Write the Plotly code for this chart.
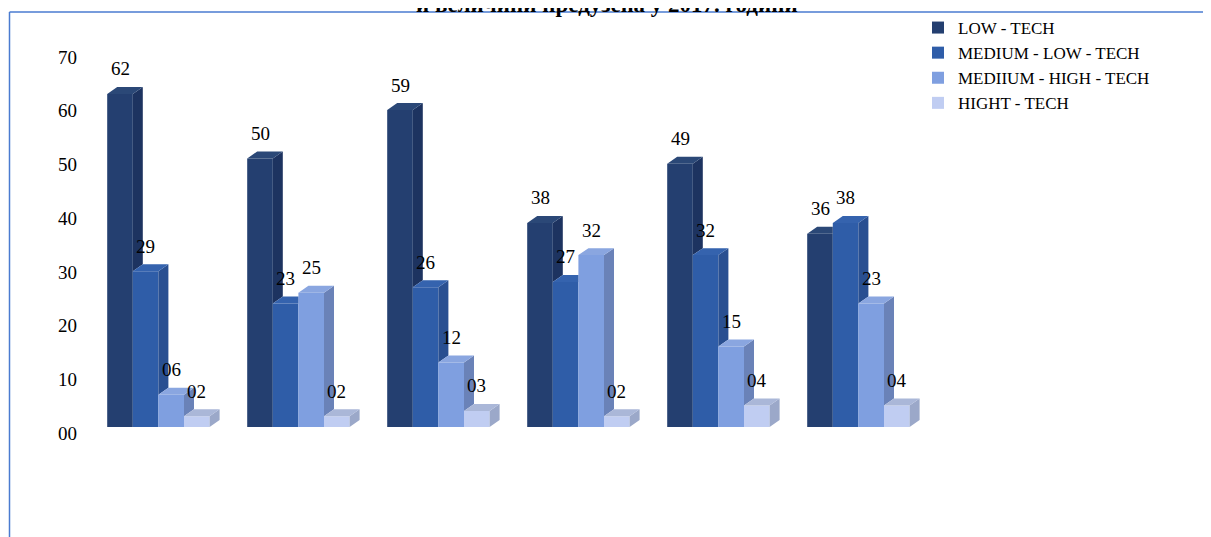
import plotly.graph_objects as go

# ---- data ----
series_names = ["LOW - TECH", "MEDIUM - LOW - TECH", "MEDIIUM - HIGH - TECH", "HIGHT - TECH"]
low_tech = [62, 50, 59, 38, 49, 36]
medium_low_tech = [29, 23, 26, 27, 32, 38]
medium_high_tech = [6, 25, 12, 32, 15, 23]
high_tech = [2, 2, 3, 2, 4, 4]
y_ticks = [0, 10, 20, 30, 40, 50, 60, 70]
y_tick_labels = ["00", "10", "20", "30", "40", "50", "60", "70"]
title_text = "и величини предузећа у 2017. години"

values = [low_tech, medium_low_tech, medium_high_tech, high_tech]
front_colors = ["#243F70", "#2F5DA8", "#7F9FE0", "#C0CDF2"]
side_colors = ["#1D3360", "#294F91", "#6A82B8", "#9BA8C9"]
top_colors = ["#2B4877", "#3563AE", "#8AA6E0", "#AAB7D8"]

W, H = 1211, 537
OFF = 8                      # page body margin (figure starts 8px in)
group_px = 140.0
gx0 = 158.4 - OFF            # figure px of the first group's centre
bar_w = 25.6 / group_px      # bar width in group units
dx = 10.0 / group_px         # 3D depth (x)
dy = 1.3                     # 3D depth (y, data units)
n_groups = len(low_tech)
offsets = [(-1.5 + k) * bar_w for k in range(4)]
FONT = "Liberation Serif, Times New Roman, serif"

fig = go.Figure()

# front faces as real bars
for k in range(4):
    xs = [g + offsets[k] for g in range(n_groups)]
    fig.add_trace(go.Bar(
        x=xs, y=values[k], width=bar_w, name=series_names[k],
        marker=dict(color=front_colors[k], line=dict(width=0)),
        hoverinfo="y",
    ))

# side and top faces (computed from data), drawn series by series
for k in range(4):
    sx, sy, tx, ty = [], [], [], []
    for g in range(n_groups):
        v = values[k][g]
        x0 = g + offsets[k] - bar_w / 2
        x1 = x0 + bar_w
        nxt = values[k + 1][g] if k < 3 else 0
        if v > nxt:
            sx += [x1, x1 + dx, x1 + dx, x1, x1, None]
            sy += [nxt, nxt + dy, v + dy, v, nxt, None]
        if k < 3 and nxt >= v + dy:
            tx += [x0, x1, x1, x0 + dx, x0, None]
            ty += [v, v, v + dy, v + dy, v, None]
        else:
            tx += [x0, x1, x1 + dx, x0 + dx, x0, None]
            ty += [v, v, v + dy, v + dy, v, None]
    fig.add_trace(go.Scatter(x=sx, y=sy, fill="toself", fillcolor=side_colors[k],
                             mode="none", showlegend=False, hoverinfo="skip"))
    fig.add_trace(go.Scatter(x=tx, y=ty, fill="toself", fillcolor=top_colors[k],
                             mode="none", showlegend=False, hoverinfo="skip"))

# value labels
annotations = []
for k in range(4):
    for g in range(n_groups):
        v = values[k][g]
        annotations.append(dict(
            x=g + offsets[k], y=v, xref="x", yref="y", text=f"{v:02d}",
            showarrow=False, yanchor="middle", xanchor="center", yshift=25,
            font=dict(family=FONT, size=19, color="black"),
        ))

annotations.append(dict(
    x=599 / W, y=1 - 11 / H, xref="paper", yref="paper", text=f"<b>{title_text}</b>",
    showarrow=False, xanchor="center", yanchor="bottom",
    font=dict(family=FONT, size=23, color="black"),
))

x_left_px = 70
fig.update_layout(
    width=W, height=H,
    margin=dict(l=0, r=0, t=0, b=0, pad=0, autoexpand=False),
    paper_bgcolor="white", plot_bgcolor="white",
    barmode="overlay",
    showlegend=True,
    legend=dict(
        x=910 / W, y=1 - 2 / H, xanchor="left", yanchor="top",
        font=dict(family=FONT, size=17, color="black"),
        bgcolor="rgba(0,0,0,0)", traceorder="normal",
    ),
    xaxis=dict(
        domain=[x_left_px / W, 1],
        range=[(x_left_px - gx0) / group_px, (W - gx0) / group_px],
        showticklabels=False, showgrid=False, zeroline=False, showline=False,
        fixedrange=True, automargin=False,
    ),
    yaxis=dict(
        domain=[1 - 419 / H, 1 - 43 / H], range=[0, 70],
        tickvals=y_ticks, ticktext=y_tick_labels,
        tickfont=dict(family=FONT, size=19, color="black"),
        showgrid=False, zeroline=False, showline=False, ticks="",
        ticklabelshift=6, automargin=False,
    ),
    annotations=annotations,
    shapes=[
        dict(type="line", xref="paper", yref="paper",
             x0=1.5 / W, x1=1.0, y0=1 - 4 / H, y1=1 - 4 / H,
             line=dict(color="#4A7BD0", width=1.5)),
        dict(type="line", xref="paper", yref="paper",
             x0=1.5 / W, x1=1.5 / W, y0=0, y1=1 - 4 / H,
             line=dict(color="#4A7BD0", width=1.5)),
    ],
)

fig.write_html("out.html")
